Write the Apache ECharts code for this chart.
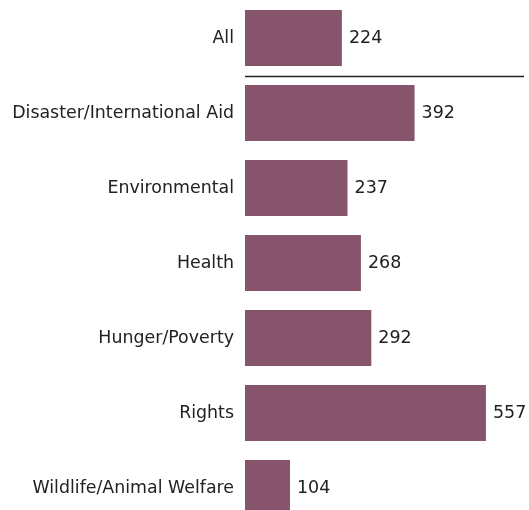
<!DOCTYPE html>
<html><head><meta charset="utf-8">
<script src="https://cdn.jsdelivr.net/npm/echarts@6/dist/echarts.min.js"></script>
<style>html,body{margin:0;padding:0;background:#fff}#c{width:529px;height:510px}</style>
</head><body><div id="c"></div>
<script>
const categories = ["All","Disaster/International Aid","Environmental","Health","Hunger/Poverty","Rights","Wildlife/Animal Welfare"];
const values = [224,392,237,268,292,557,104];
const FONT = "DejaVu Sans";
const chart = echarts.init(document.getElementById('c'), null, {renderer:'canvas'});
const option = {
  animation:false,
  grid:{left:245,right:5,top:0.5,height:525,containLabel:false,outerBoundsMode:'none'},
  xAxis:{type:'value',min:0,max:645,show:false},
  yAxis:{type:'category',data:categories,inverse:true,
    axisLine:{show:false},axisTick:{show:false},
    axisLabel:{margin:11,color:'#222',fontFamily:FONT,fontSize:17.4}},
  series:[{type:'bar',data:values,barWidth:56,
    itemStyle:{color:'#86556b'},
    label:{show:true,position:'right',distance:7,color:'#222',fontFamily:FONT,fontSize:17.5}}]
};
chart.setOption(option);
const yMid = (chart.convertToPixel({yAxisIndex:0},categories[0]) + chart.convertToPixel({yAxisIndex:0},categories[1]))/2;
const x0 = chart.convertToPixel({xAxisIndex:0},0);
const x1 = chart.convertToPixel({xAxisIndex:0},645);
chart.setOption({graphic:[{type:'line',shape:{x1:x0,y1:Math.round(yMid)+0.5,x2:x1,y2:Math.round(yMid)+0.5},style:{stroke:'#222',lineWidth:1.4}}]});
</script></body></html>
